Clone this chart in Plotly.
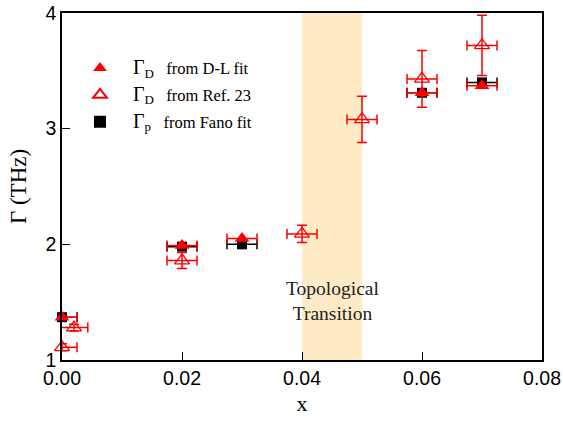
import plotly.graph_objects as go

# Fano fit (black squares)
x_fano = [0.0, 0.02, 0.03, 0.06, 0.07]
g_fano = [1.37, 1.98, 2.00, 3.31, 3.40]
xerr_fano = [0.0025, 0.0025, 0.0025, 0.0025, 0.0025]

# D-L fit (filled red triangles)
x_dl = [0.0, 0.02, 0.03, 0.06, 0.07]
g_dl = [1.37, 1.99, 2.05, 3.31, 3.37]
xerr_dl = [0.0025, 0.0025, 0.0025, 0.0025, 0.0025]

# Ref. 23 (open red triangles)
x_ref = [0.0, 0.002, 0.02, 0.04, 0.05, 0.06, 0.07]
g_ref = [1.11, 1.28, 1.86, 2.09, 3.08, 3.43, 3.72]
yerr_ref = [0.03, 0.03, 0.07, 0.075, 0.2, 0.245, 0.26]
xerr_ref = [0.0025, 0.0023, 0.0025, 0.0025, 0.0025, 0.0025, 0.0025]

band = [0.04, 0.05]
x_ticks = [0, 0.02, 0.04, 0.06, 0.08]
x_ticktext = ["0.00", "0.02", "0.04", "0.06", "0.08"]
y_ticks = [1, 2, 3, 4]

serif = "Liberation Serif, Times New Roman, serif"
sans = "Liberation Sans, Arial, sans-serif"


def lg(sub, rest):
    return ("<span style='font-size:20px'>Γ</span><sub><span style='font-size:13px'>" + sub +
            "</span></sub><span style='font-size:16.5px'>&nbsp;&nbsp; " + rest + "</span>")


fig = go.Figure()

fig.add_trace(go.Scatter(
    x=x_fano, y=g_fano, mode="markers", name=lg("p", "from Fano fit"),
    marker=dict(symbol="square", size=10, color="black"),
    error_x=dict(type="data", array=xerr_fano, color="black", thickness=1.5, width=5),
    legendrank=3, legendgroup="c", cliponaxis=False))

fig.add_trace(go.Scatter(
    x=x_dl, y=g_dl, mode="markers", name=lg("D", "from D-L fit"),
    marker=dict(symbol="triangle-up", size=13, color="red"),
    error_x=dict(type="data", array=xerr_dl, color="red", thickness=1.5, width=5),
    legendrank=1, legendgroup="a", cliponaxis=False))

fig.add_trace(go.Scatter(
    x=x_ref, y=g_ref, mode="markers", name=lg("D", "from Ref. 23"),
    marker=dict(symbol="triangle-up-open", size=13, color="red", line=dict(width=1.3)),
    error_x=dict(type="data", array=xerr_ref, color="red", thickness=1.5, width=5),
    error_y=dict(type="data", array=yerr_ref, color="red", thickness=1.5, width=5),
    legendrank=2, legendgroup="b", cliponaxis=False))

fig.add_shape(type="rect", xref="x", yref="y", x0=band[0], x1=band[1], y0=1, y1=4,
              fillcolor="#FEEBC6", line=dict(width=0), layer="below")

fig.add_annotation(x=(band[0] + band[1]) / 2, y=1.51, xref="x", yref="y",
                   text="Topological<br>Transition", showarrow=False,
                   font=dict(family=serif, size=19.5, color="#222"))

fig.update_layout(
    width=563, height=422,
    margin=dict(l=62, r=21, t=13, b=62),
    plot_bgcolor="white", paper_bgcolor="white",
    showlegend=True,
    legend=dict(x=0.0104, y=0.89, xanchor="left", yanchor="top",
                bgcolor="rgba(0,0,0,0)", font=dict(family=serif, size=16, color="black"),
                tracegroupgap=3, itemsizing="constant", itemwidth=56),
    xaxis=dict(range=[0, 0.08], tickvals=x_ticks, ticktext=x_ticktext,
               showline=True, linecolor="black", linewidth=1.5, mirror=True,
               ticks="inside", ticklen=8, tickcolor="black", showgrid=False, zeroline=False,
               automargin=False,
               tickfont=dict(family=sans, size=19.5, color="black"),
               title=dict(text="x", font=dict(family=serif, size=22, color="black"), standoff=7)),
    yaxis=dict(range=[1, 4], tickvals=y_ticks,
               showline=True, linecolor="black", linewidth=1.5, mirror=True,
               ticks="inside", ticklen=8, tickcolor="black", showgrid=False, zeroline=False,
               automargin=False,
               tickfont=dict(family=sans, size=19.5, color="black"),
               title=dict(text="Γ (THz)", font=dict(family=serif, size=23, color="black"), standoff=12)),
)

fig.write_html("out.html", config={"displayModeBar": False},
               post_script="document.body.style.margin='0';document.body.style.overflow='hidden';")
